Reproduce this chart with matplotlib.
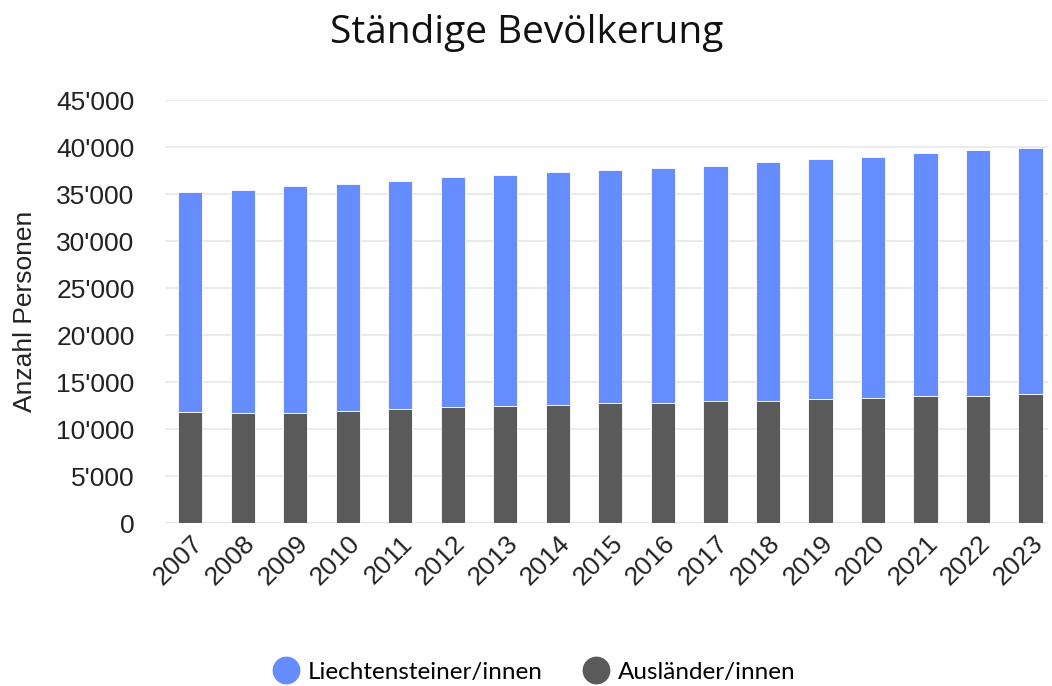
import matplotlib.pyplot as plt
from matplotlib.lines import Line2D
from matplotlib.ticker import FuncFormatter, MultipleLocator

years = ['2007', '2008', '2009', '2010', '2011', '2012', '2013', '2014', '2015',
         '2016', '2017', '2018', '2019', '2020', '2021', '2022', '2023']
auslaender = [11800, 11750, 11750, 11950, 12150, 12350, 12500, 12550, 12750,
              12750, 12950, 12950, 13150, 13350, 13550, 13550, 13750]
total = [35250, 35450, 35800, 36050, 36400, 36800, 37050, 37350, 37600,
         37780, 38000, 38380, 38720, 38950, 39330, 39700, 39930]
liechtensteiner = [t - a for t, a in zip(total, auslaender)]

blue = '#658dff'
grey = '#5a5a5a'

fig = plt.figure(figsize=(10.52, 6.86), dpi=100)
ax = fig.add_axes([0.157, 0.2376, 0.839, 0.6166])

x = range(len(years))
ax.bar(x, auslaender, width=0.46, color=grey, edgecolor='white', linewidth=0.6, zorder=3)
ax.bar(x, liechtensteiner, bottom=auslaender, width=0.46, color=blue,
       edgecolor='white', linewidth=0.6, zorder=3)

ax.set_ylim(0, 45000)
ax.set_xlim(-0.48, 16.33)
ax.yaxis.set_major_locator(MultipleLocator(5000))
ax.yaxis.set_major_formatter(FuncFormatter(lambda v, p: f"{int(v):,}".replace(',', "'")))
ax.grid(axis='y', color='#e8e8e8', linewidth=1.2, zorder=0)
ax.axhline(0, color='#cccccc', linewidth=1.2, zorder=1)
for s in ax.spines.values():
    s.set_visible(False)
ax.tick_params(axis='y', length=0, pad=22, labelsize=19, labelcolor='#222222')
ax.tick_params(axis='x', length=0, pad=6, labelsize=19, labelcolor='#222222')
ax.set_xticks(list(x))
ax.set_xticklabels(years, rotation=45, ha='right', va='top', rotation_mode='anchor',
                   family='Liberation Sans')
for lab in ax.get_yticklabels():
    lab.set_family('Liberation Sans')

ax.set_ylabel('Anzahl Personen', fontsize=19, family='Liberation Sans',
              color='#222222', labelpad=14)
fig.text(0.501, 0.952, 'Ständige Bevölkerung', ha='center', va='center',
         fontsize=28, family='Open Sans', fontweight='medium', color='#111111')

handles = [Line2D([], [], marker='o', linestyle='none', markersize=19, color=blue),
           Line2D([], [], marker='o', linestyle='none', markersize=19, color=grey)]
fig.legend(handles, ['Liechtensteiner/innen', 'Ausländer/innen'], loc='center',
           bbox_to_anchor=(0.505, 0.02), ncol=2, frameon=False, handletextpad=0.1,
           columnspacing=1.4, handlelength=1.6, prop={'family': 'Lato', 'size': 17.5})

fig.savefig('out.png', dpi=100)
